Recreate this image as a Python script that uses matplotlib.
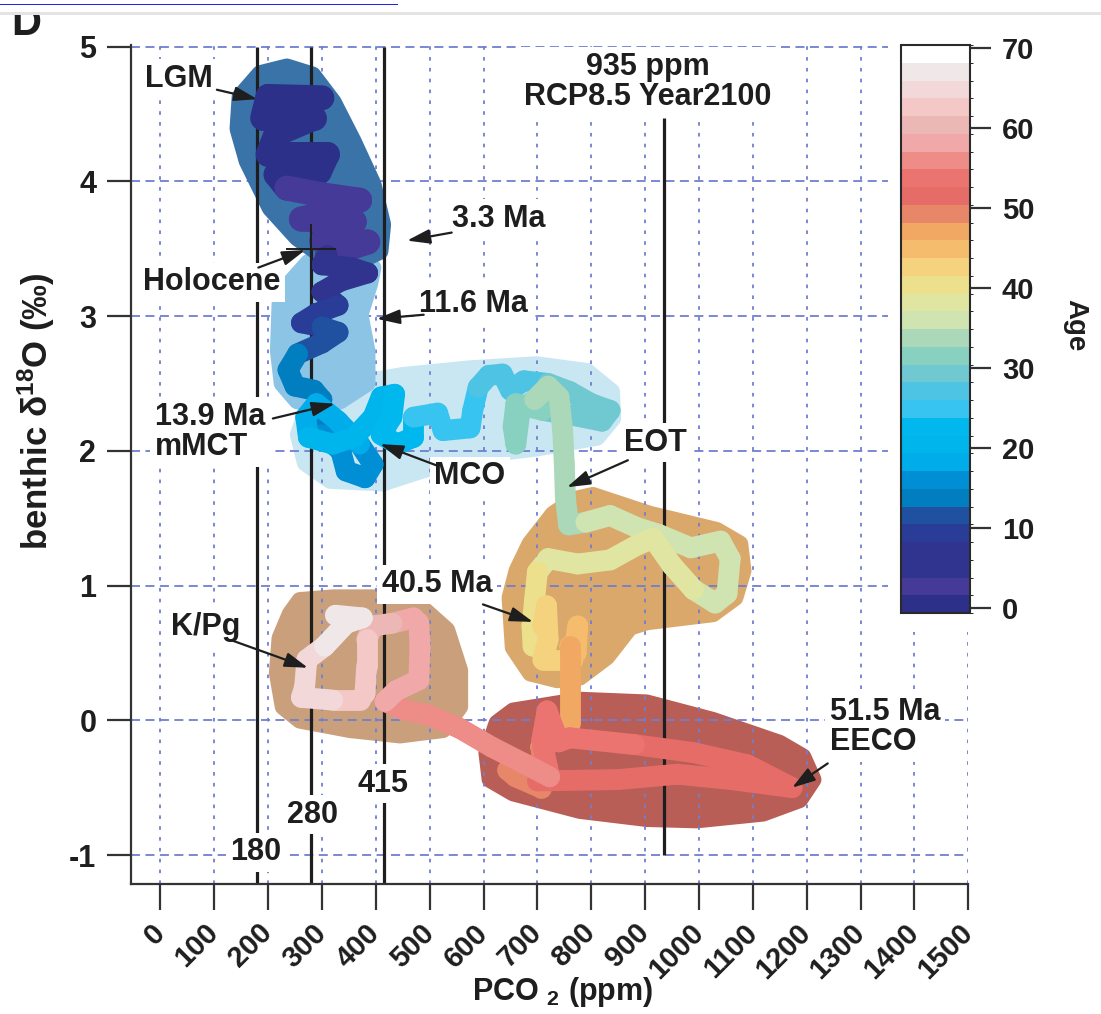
import numpy as np
import matplotlib
matplotlib.use("Agg")
import matplotlib.pyplot as plt
from matplotlib.collections import LineCollection
from matplotlib.colors import ListedColormap, BoundaryNorm
from matplotlib.patches import Polygon, Rectangle
from matplotlib.cm import ScalarMappable

plt.rcParams["font.family"] = ["Liberation Sans", "DejaVu Sans"]
plt.rcParams["font.weight"] = "bold"
plt.rcParams["axes.labelweight"] = "bold"
plt.rcParams["mathtext.fontset"] = "custom"
plt.rcParams["mathtext.rm"] = "Liberation Sans:bold"
plt.rcParams["mathtext.default"] = "rm"

INK = "#1e1e1e"
GRID = "#6f7fd0"

# colour bands of the age bar, youngest first (Ma)
age_colors = [
    "#2c3088", "#453a98", "#30348e", "#30348e", "#283c98", "#2050a0", "#007ec0", "#008ed4",
    "#00acea", "#00b4ec", "#00b8ee", "#38c4f0", "#4ec4e4", "#70c8d0", "#88d0c0", "#aad8b8",
    "#cfe4b0", "#e0e6a2", "#ece08c", "#f4d27e", "#f4bc6c", "#f0a862", "#e8866a", "#e66c68",
    "#ec7470", "#ee8c88", "#f0a8a8", "#ecb8b6", "#f4c8c6", "#f2d8d8", "#f0e8e8", "#ffffff",
]
age_lo, age_hi = -0.6, 70.4
age_ticks = [0, 10, 20, 30, 40, 50, 60, 70]

# CO2 / benthic d18O trajectory, youngest first
pco2 = [300, 200, 190, 285, 215, 200, 310, 295, 215, 235,
        300, 370, 320, 262, 360, 330, 300, 385, 310,
        300, 355, 385, 335, 300, 330, 290, 262, 300, 330, 300,
        255, 237, 250, 285, 300,
        285, 300, 335, 345, 380, 395,
        370, 330, 290, 270, 275, 320, 360, 395, 410, 435, 430, 410, 440, 470,
        470, 515, 525, 575, 580,
        590, 610, 635, 650, 675,
        720, 760, 800, 835, 820, 770,
        710, 660, 655, 660, 668,
        695, 720, 740, 747, 750, 752, 758,
        790, 835, 885, 925, 985, 1040, 1058, 1052, 1030,
        990, 950, 915, 885, 835, 775, 720,
        700, 695, 690, 692,
        710, 717, 720, 710,
        765, 775, 772,
        760, 760, 760, 735,
        706, 706, 660,
        645, 700, 850, 960, 1060, 1173, 1090, 990,
        880, 760, 740, 718, 708, 723,
        675, 616, 556, 497, 450,
        417, 438, 480, 482, 480, 470,
        430, 395, 383, 383, 380, 370,
        320, 262, 268, 272,
        305, 345, 375, 325]
d18o = [4.62, 4.63, 4.47, 4.47, 4.35, 4.20, 4.20, 4.07, 4.05, 3.95,
        3.90, 3.86, 3.78, 3.72, 3.70, 3.62, 3.56, 3.55, 3.45,
        3.38, 3.36, 3.32, 3.26, 3.18, 3.08, 3.02, 2.95, 2.92, 2.88, 2.80,
        2.72, 2.60, 2.48, 2.45, 2.38,
        2.28, 2.12, 2.00, 1.85, 1.80, 1.90,
        2.05, 2.22, 2.35, 2.25, 2.10, 2.05, 2.10, 2.25, 2.40, 2.42, 2.25, 2.12, 2.05, 2.10,
        2.25, 2.28, 2.15, 2.17, 2.30,
        2.47, 2.56, 2.57, 2.45, 2.52,
        2.50, 2.44, 2.35, 2.30, 2.22, 2.26,
        2.30, 2.35, 2.18, 2.05, 2.30,
        2.38, 2.48, 2.40, 2.15, 1.90, 1.65, 1.45,
        1.47, 1.52, 1.43, 1.38, 1.28, 1.33, 1.20, 0.94, 0.87,
        0.97, 1.15, 1.35, 1.30, 1.19, 1.16, 1.20,
        1.10, 0.90, 0.70, 0.55,
        0.70, 0.85, 0.60, 0.45,
        0.45, 0.70, 0.50,
        0.55, 0.25, -0.02, -0.15,
        -0.20, -0.50, -0.42,
        -0.37, -0.45, -0.44, -0.40, -0.44, -0.50, -0.33, -0.24,
        -0.18, -0.13, -0.16, 0.07, -0.15, -0.42,
        -0.32, -0.20, -0.06, 0.04, 0.08,
        0.14, 0.22, 0.30, 0.55, 0.72, 0.76,
        0.72, 0.70, 0.60, 0.40, 0.20, 0.15,
        0.15, 0.17, 0.25, 0.45,
        0.55, 0.72, 0.76, 0.78]
age = [0.0, 0.2, 0.4, 0.6, 0.8, 0.95, 1.1, 1.25, 1.4, 1.55,
       1.7, 2.0, 2.3, 2.6, 2.9, 3.1, 3.3, 3.6, 3.8,
       4.2, 4.8, 5.4, 6.2, 7.0, 8.0, 9.0, 10.0, 10.8, 11.6, 12.3,
       12.8, 13.1, 13.4, 13.7, 14.0,
       14.5, 14.9, 15.3, 15.8, 16.3, 16.8,
       17.3, 17.8, 18.3, 18.7, 19.2, 19.7, 20.2, 20.7, 21.2, 21.7, 22.2, 22.7, 23.2, 23.6,
       24.0, 24.5, 25.0, 25.4, 25.8,
       26.2, 26.6, 27.0, 27.4, 27.8,
       28.2, 28.6, 29.0, 29.4, 29.8, 30.1,
       30.5, 30.9, 31.4, 31.9, 32.3,
       32.6, 32.9, 33.2, 33.5, 33.8, 34.1, 34.5,
       34.8, 35.1, 35.4, 35.7, 35.95, 36.2, 36.4, 36.6, 36.75,
       37.0, 37.4, 37.8, 38.0, 38.3, 38.6, 38.9,
       39.3, 39.8, 40.3, 40.9,
       41.5, 42.0, 42.6, 43.2,
       43.7, 44.4, 45.2,
       45.8, 46.5, 47.1, 47.5,
       48.2, 49.0, 49.6,
       50.0, 50.3, 50.7, 51.0, 51.3, 51.5, 51.8, 52.1,
       52.5, 53.0, 53.4, 54.0, 54.4, 54.8,
       55.3, 55.7, 56.1, 56.5, 56.8,
       57.1, 57.4, 57.7, 58.1, 58.6, 58.9,
       59.6, 60.4, 61.1, 62.0, 62.8, 63.3,
       64.0, 64.8, 65.3, 65.6,
       66.0, 66.5, 67.0, 67.4]

# shaded envelopes (ppm, permil)
lgm_env_x = [235, 185, 148, 144, 161, 204, 254, 296, 371, 408, 413, 395, 358, 321, 283]
lgm_env_y = [4.85, 4.80, 4.63, 4.39, 4.15, 3.80, 3.58, 3.46, 3.41, 3.48, 3.68, 3.98, 4.30, 4.59, 4.79]
mio_env_x = [275, 395, 389, 371, 384, 384, 334, 254, 226, 219, 222, 235]
mio_env_y = [3.40, 3.36, 3.24, 3.01, 2.74, 2.50, 2.37, 2.37, 2.50, 2.74, 3.09, 3.22]
mco_env_x = [256, 278, 334, 450, 575, 699, 792, 838, 840, 811, 699, 575, 482, 413, 315, 269]
mco_env_y = [2.12, 2.37, 2.48, 2.56, 2.61, 2.64, 2.59, 2.44, 2.24, 2.10, 2.02, 1.96, 1.85, 1.76, 1.78, 1.91]
eot_env_x = [803, 909, 1033, 1076, 1082, 1067, 1026, 903, 872, 829, 779, 737, 687, 655, 649, 662, 686, 729, 770]
eot_env_y = [1.67, 1.53, 1.41, 1.31, 1.11, 0.91, 0.79, 0.73, 0.69, 0.47, 0.32, 0.30, 0.35, 0.54, 0.91, 1.11, 1.31, 1.53, 1.64]
kpg_env_x = [259, 321, 408, 476, 532, 556, 556, 525, 445, 352, 259, 228, 217, 222, 241]
kpg_env_y = [0.89, 0.91, 0.91, 0.87, 0.67, 0.37, 0.10, -0.07, -0.11, -0.07, 0.0, 0.10, 0.35, 0.61, 0.79]
eeco_env_x = [655, 779, 903, 1026, 1150, 1193, 1212, 1187, 1119, 996, 903, 779, 655, 612, 606, 625]
eeco_env_y = [0.07, 0.15, 0.13, 0.0, -0.17, -0.27, -0.44, -0.59, -0.69, -0.74, -0.73, -0.67, -0.54, -0.44, -0.24, -0.02]

# reference CO2 levels
ref_ppm = [180, 280, 415, 935]
ref_top = [5.0, 5.0, 5.0, 4.47]
ref_bottom = [-1.215, -1.215, -1.215, -1.0]
ref_labels = ["180", "280", "415", "935 ppm\nRCP8.5 Year2100"]
ref_label_x = [178, 282, 413, 905]
ref_label_y = [-0.98, -0.70, -0.47, 4.74]

# event labels: text, text position, arrow tail, arrow head
event_text = ["LGM", "Holocene", "3.3 Ma", "11.6 Ma", "13.9 Ma\nmMCT", "MCO", "EOT", "40.5 Ma", "K/Pg", "51.5 Ma\nEECO"]
event_xy = [(-28, 4.76), (96, 3.25), (629, 3.72), (581, 3.09), (-10, 2.14), (575, 1.81), (920, 2.06), (514, 1.01), (85, 0.69), (1243, -0.05)]
event_align = ["left", "center", "center", "center", "left", "center", "center", "center", "center", "left"]
arrow_tail = [(105, 4.68), (182, 3.36), (541, 3.62), (489, 3.01), (209, 2.24), (514, 1.89), (868, 1.93), (599, 0.86), (135, 0.59), (1239, -0.32)]
arrow_head = [(180, 4.61), (269, 3.49), (458, 3.56), (402, 2.98), (324, 2.35), (408, 2.05), (755, 1.73), (692, 0.73), (274, 0.39), (1173, -0.50)]
holocene_pt = (280, 3.5)

W, H = 1101, 1014
fig = plt.figure(figsize=(W / 100, H / 100), dpi=100)
ax = fig.add_axes([131 / W, 130 / H, (968.3 - 131) / W, (969 - 130) / H])
ax.set_xlim(-54.4, 1500)
ax.set_ylim(-1.215, 5.012)

for side in ["top", "right"]:
    ax.spines[side].set_visible(False)
for side in ["left", "bottom"]:
    ax.spines[side].set_color("#333333")
    ax.spines[side].set_linewidth(1.6)

ax.set_xticks(np.arange(0, 1501, 100))
ax.set_yticks(np.arange(-1, 6, 1))
ax.set_yticklabels([str(v) for v in range(-1, 6)])
ax.xaxis.grid(True, color=GRID, lw=1.3, ls=(0, (2, 4)))
ax.yaxis.grid(True, color=GRID, lw=1.3, ls=(0, (5, 3)))
ax.tick_params(axis="x", direction="out", length=19, width=1.6, color="#333333", pad=13, labelsize=21)
ax.tick_params(axis="y", direction="out", length=17, width=1.6, color="#333333", pad=8, labelsize=22)
for lab in ax.get_xticklabels():
    lab.set_rotation(45)
    lab.set_ha("right")
    lab.set_va("center")
    lab.set_rotation_mode("anchor")
    lab.set_color(INK)
for lab in ax.get_yticklabels():
    lab.set_color(INK)

# envelopes
env_specs = [
    (mco_env_x, mco_env_y, "#c9e7f3", 1.0),
    (eot_env_x, eot_env_y, "#dba86b", 1.0),
    (kpg_env_x, kpg_env_y, "#c9a07b", 1.0),
    (eeco_env_x, eeco_env_y, "#b85e56", 1.0),
    (mio_env_x, mio_env_y, "#8cc4e6", 1.6),
    (lgm_env_x, lgm_env_y, "#3a73a8", 1.7),
]
for ex, ey, col, z in env_specs:
    ax.add_patch(Polygon(np.column_stack([ex, ey]), closed=True, fc=col, ec=col,
                         lw=12, joinstyle="round", zorder=z))

# reference lines
for xv, y0, y1 in zip(ref_ppm, ref_bottom, ref_top):
    ax.plot([xv, xv], [y0, y1], color=INK, lw=2.3, solid_capstyle="butt", zorder=1.8)

# trajectory coloured by age
cmap = ListedColormap(age_colors)
norm = BoundaryNorm(np.linspace(age_lo, age_hi, len(age_colors) + 1), cmap.N)
pts = np.column_stack([pco2, d18o])
segs = np.stack([pts[:-1], pts[1:]], axis=1)
mid_age = (np.array(age[:-1]) + np.array(age[1:])) / 2
widths = np.where(mid_age < 4.0, 18, 15)
lc = LineCollection(segs, colors=cmap(norm(mid_age)), linewidths=widths, capstyle="round",
                    joinstyle="round", zorder=2)
ax.add_collection(lc)

ax.plot(*holocene_pt, marker="+", ms=36, mew=1.4, color=INK, zorder=4)

box = dict(boxstyle="square,pad=0.15", fc="white", ec="none")
for txt, xv, yv in zip(ref_labels, ref_label_x, ref_label_y):
    ax.text(xv, yv, txt, ha="center", va="center", fontsize=22, color=INK,
            linespacing=1.0, bbox=box, zorder=5)

for txt, (tx, ty), al, tail, head in zip(event_text, event_xy, event_align, arrow_tail, arrow_head):
    ax.text(tx, ty, txt, ha=al, va="center", fontsize=22, color=INK, linespacing=1.0,
            bbox=box, zorder=5)
    ax.annotate("", xy=head, xytext=tail, zorder=6,
                arrowprops=dict(arrowstyle="-|>,head_length=0.7,head_width=0.22", color=INK,
                                lw=1.6, shrinkA=0, shrinkB=0, mutation_scale=20))

ax.set_xlabel("PCO $_{2}$ (ppm)", fontsize=22, color=INK)
ax.xaxis.set_label_coords(0.516, -0.109)
ax.set_ylabel("benthic δ$^{18}$O (‰)", fontsize=25, color=INK)
ax.yaxis.set_label_coords(-0.088, 0.563)

# white panel behind the colour bar
fig.add_artist(Rectangle((888 / W, (H - 632) / H), (985 - 888) / W, (632 - 40) / H,
                         transform=fig.transFigure, fc="white", ec="none", zorder=1))
cax = fig.add_axes([900.7 / W, (H - 613) / H, 69.3 / W, 568 / H])
cax.set_zorder(3)
cb = fig.colorbar(ScalarMappable(norm=norm, cmap=cmap), cax=cax, ticks=age_ticks)
cb.outline.set_edgecolor("#2a2a2a")
cb.outline.set_linewidth(1.5)
cax.tick_params(length=15, width=1.6, color="#333333", labelsize=21, pad=8, labelcolor=INK)
fig.text(1075 / W, 1 - 325 / H, "Age", rotation=270, ha="center", va="center", fontsize=20,
         color=INK)

# panel letter and the page strip above it
fig.text(11 / W, 1 - 35 / H, "D", ha="left", va="baseline", fontsize=30, color=INK)
fig.add_artist(Rectangle((0, 1 - 12 / H), 1, 12 / H, transform=fig.transFigure,
                         fc="white", ec="none", zorder=8))
fig.add_artist(Rectangle((0, 1 - 15 / H), 1, 3 / H, transform=fig.transFigure,
                         fc="#e4e4e4", ec="none", zorder=8))
fig.add_artist(Rectangle((0, 1 - 5 / H), 398 / W, 1.5 / H, transform=fig.transFigure,
                         fc="#2323e6", ec="none", zorder=9))

fig.savefig("out.png", dpi=100)
